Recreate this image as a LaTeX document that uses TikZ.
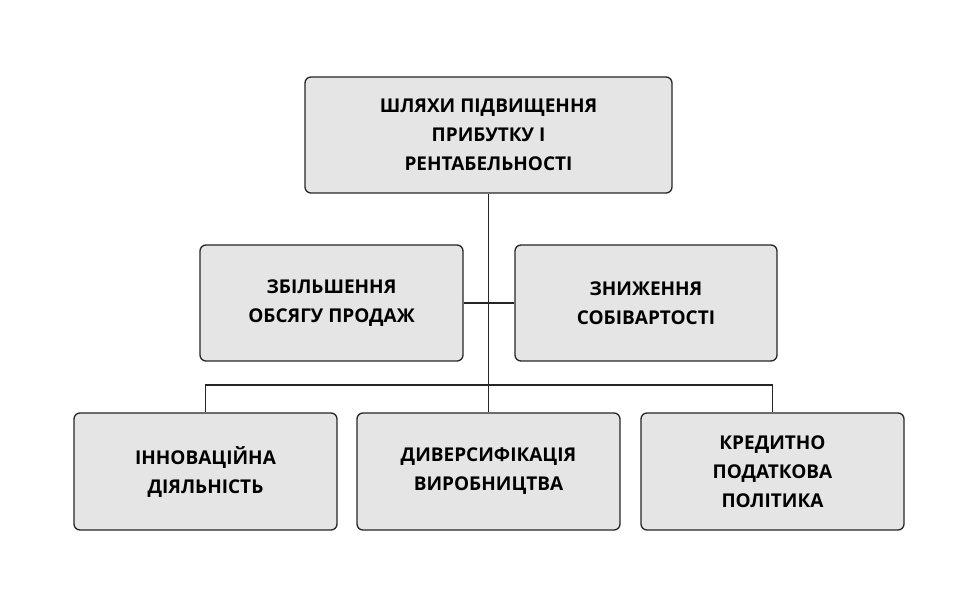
\documentclass[tikz,border=0pt]{standalone}
\usepackage{fontspec}
\setmainfont{Open Sans}
\begin{document}
\begin{tikzpicture}[x=1pt,y=-1pt,
  box/.style={draw=black!85,line width=1.3pt,fill=black!10,rounded corners=6pt,align=center,font=\bfseries\fontsize{19}{29}\selectfont},
  ln/.style={draw=black!85,line width=1.3pt}]
\useasboundingbox[fill=white] (0,0) rectangle (978,609);
\node[box,minimum width=367pt,minimum height=116pt] (top) at (488.5,135) {ШЛЯХИ ПІДВИЩЕННЯ\\ПРИБУТКУ І\\РЕНТАБЕЛЬНОСТІ};
\node[box,minimum width=263pt,minimum height=116pt] (ml) at (331.5,303) {ЗБІЛЬШЕННЯ\\ОБСЯГУ ПРОДАЖ};
\node[box,minimum width=262pt,minimum height=116pt] (mr) at (646,303) {ЗНИЖЕННЯ\\СОБІВАРТОСТІ};
\node[box,minimum width=263pt,minimum height=117pt] (b1) at (205.5,471.5) {ІННОВАЦІЙНА\\ДІЯЛЬНІСТЬ};
\node[box,minimum width=263pt,minimum height=117pt] (b2) at (488.5,471.5) {ДИВЕРСИФІКАЦІЯ\\ВИРОБНИЦТВА};
\node[box,minimum width=263pt,minimum height=117pt] (b3) at (772.5,471.5) {КРЕДИТНО\\ПОДАТКОВА\\ПОЛІТИКА};
\coordinate (j) at (488.5,385);
\draw[ln] (top.south) -- (j);
\draw[ln] (ml.east) -- (mr.west);
\draw[ln] (b1.north) |- (j) -| (b3.north);
\draw[ln] (j) -- (b2.north);
\end{tikzpicture}
\end{document}
